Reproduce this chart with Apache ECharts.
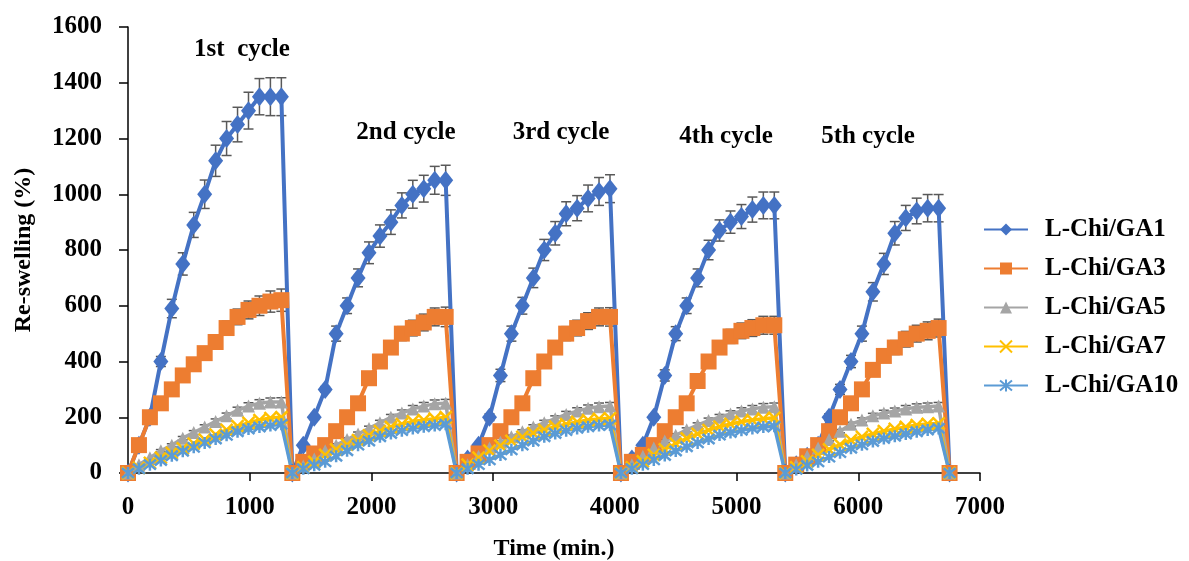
<!DOCTYPE html>
<html>
<head>
<meta charset="utf-8">
<script src="https://cdn.jsdelivr.net/npm/echarts@6/dist/echarts.min.js"></script>
<style>html,body{margin:0;padding:0;background:#fff;}#chart{width:1189px;height:561px;}</style>
</head>
<body>
<div id="chart"></div>
<script>
// time points (min)
var times = [0,90,180,270,360,450,540,630,720,810,900,990,1080,1170,1260,
  1350,1440,1530,1620,1710,1800,1890,1980,2070,2160,2250,2340,2430,2520,2610,
  2700,2790,2880,2970,3060,3150,3240,3330,3420,3510,3600,3690,3780,3870,3960,
  4050,4140,4230,4320,4410,4500,4590,4680,4770,4860,4950,5040,5130,5220,5310,
  5400,5490,5580,5670,5760,5850,5940,6030,6120,6210,6300,6390,6480,6570,6660,
  6750];

var ga1 = [0,100,200,400,590,750,890,1000,1120,1200,1250,1300,1350,1350,1350,
  0,100,200,300,500,600,700,790,850,900,960,1000,1020,1050,1050,
  0,50,100,200,350,500,600,700,800,860,930,950,985,1010,1020,
  0,50,100,200,350,500,600,700,800,870,900,920,945,960,960,
  0,30,60,100,200,300,400,500,650,750,860,915,940,950,950,
  0];
var ga3 = [0,100,200,250,300,350,390,430,470,520,560,585,600,615,620,
  0,40,70,100,150,200,250,340,400,450,500,520,540,560,560,
  0,40,70,100,150,200,250,340,400,450,500,520,545,560,560,
  0,40,65,100,150,200,250,330,400,450,490,510,520,530,530,
  0,30,60,100,150,200,250,300,370,420,450,480,500,510,520,
  0];
var ga5 = [0,30,55,80,100,125,145,165,185,205,225,240,250,255,255,
  0,25,50,80,100,120,140,160,180,200,215,230,240,248,250,
  0,30,60,90,110,130,148,165,180,195,210,222,232,238,240,
  0,30,60,90,115,135,155,172,188,200,212,222,230,236,238,
  0,30,60,90,120,150,175,190,205,215,222,230,236,238,240,
  0];
var ga7 = [0,18,36,55,72,88,105,120,138,155,168,180,190,197,200,
  0,20,40,65,85,102,118,135,150,165,175,185,190,195,200,
  0,30,55,80,98,115,130,143,155,166,175,183,190,194,196,
  0,20,42,65,85,105,124,140,154,166,176,184,190,195,198,
  0,20,42,65,85,102,118,130,140,150,158,165,172,176,178,
  0];
var ga10 = [0,15,30,45,62,78,92,108,122,135,148,158,165,170,175,
  0,15,28,40,60,80,100,115,130,142,152,160,166,170,175,
  0,15,30,47,65,83,100,115,130,142,152,160,166,170,172,
  0,15,30,47,63,79,94,108,122,136,145,153,160,165,168,
  0,13,27,40,57,73,89,101,113,124,132,140,148,154,160,
  0];

// error bars (± values)
var err1 = [0,5,8,18,33,40,45,51,56,61,62,66,65,68,68,
  0,5,8,10,27,28,32,39,40,44,45,50,48,50,54,
  0,3,5,12,22,27,30,35,38,42,43,45,48,50,50,
  0,3,5,10,20,25,28,32,35,38,40,43,45,48,48,
  0,2,4,6,12,18,22,27,33,38,42,45,46,49,49,
  0];
var err3 = [0,5,8,10,12,15,18,20,22,25,28,32,35,38,40,
  0,3,5,6,8,10,12,18,20,22,25,28,30,32,35,
  0,3,5,6,8,10,12,18,20,22,25,28,30,32,33,
  0,3,5,6,8,10,12,18,20,22,25,28,30,32,32,
  0,3,5,6,8,10,12,16,20,22,25,28,30,32,32,
  0];
var err5 = [0,0,0,4,5,6,7,8,9,10,11,12,13,14,15,
  0,0,0,4,5,6,7,8,9,10,11,12,13,14,14,
  0,0,0,4,5,6,7,8,9,10,11,12,12,13,13,
  0,0,0,4,5,6,7,8,9,10,11,12,12,13,13,
  0,0,0,4,5,6,7,8,9,10,11,12,12,13,13,
  0];

var yTicks = [0,200,400,600,800,1000,1200,1400,1600];
var xTicks = [0,1000,2000,3000,4000,5000,6000,7000];
var seriesNames = ['L-Chi/GA1','L-Chi/GA3','L-Chi/GA5','L-Chi/GA7','L-Chi/GA10'];
var cycleLabels = ['1st  cycle','2nd cycle','3rd cycle','4th cycle','5th cycle'];

var FONT = '"Liberation Serif", "Times New Roman", serif';

function pairs(vals){ return times.map(function(t,i){ return [t, vals[i]]; }); }
function errPairs(vals, errs){ return times.map(function(t,i){ return [t, vals[i], errs[i]]; }); }

function errRender(params, api){
  var x = api.value(0), y = api.value(1), e = api.value(2);
  if (!e) return null;
  var top = api.coord([x, y + e]);
  var bot = api.coord([x, y - e]);
  var w = 5;
  var st = {stroke:'#595959', lineWidth:1.5};
  return {type:'group', children:[
    {type:'line', shape:{x1:top[0], y1:top[1], x2:bot[0], y2:bot[1]}, style:st},
    {type:'line', shape:{x1:top[0]-w, y1:top[1], x2:top[0]+w, y2:top[1]}, style:st},
    {type:'line', shape:{x1:bot[0]-w, y1:bot[1], x2:bot[0]+w, y2:bot[1]}, style:st}
  ]};
}

var crossPath = 'path://M0,0L10,10M10,0L0,10';
var starPath = 'path://M0,0L10,10M10,0L0,10M5,-1L5,11';

var colors = ['#4472C4','#ED7D31','#A5A5A5','#FFC000','#5B9BD5'];

function lineSeries(name, vals, color, symbol, size, lw, extra){
  var s = {
    name: name, type:'line', data: pairs(vals), symbol: symbol, symbolSize: size,
    showAllSymbol: true, smooth:false, z: 3,
    lineStyle:{color:color, width:lw},
    itemStyle:{color:color},
    emphasis:{disabled:true}
  };
  if (extra) { for (var k in extra) s[k] = extra[k]; }
  return s;
}

var chart = echarts.init(document.getElementById('chart'), null, {renderer:'canvas'});

var option = {
  animation:false,
  backgroundColor:'#fff',
  grid:{left:128, right:209, top:27, bottom:88, containLabel:false, outerBoundsMode:'none'},
  xAxis:{
    type:'value', min:0, max:7000, interval:1000,
    name:'Time (min.)', nameLocation:'middle', nameGap:64,
    nameTextStyle:{fontFamily:FONT, fontWeight:'bold', fontSize:24, color:'#000'},
    axisLine:{show:true, lineStyle:{color:'#000', width:1.5}},
    axisTick:{show:true, length:8, lineStyle:{color:'#000', width:1.5}},
    axisLabel:{fontFamily:FONT, fontWeight:'bold', fontSize:25, color:'#000', margin:22,
      formatter:function(v){ return xTicks.indexOf(v) >= 0 ? String(v) : ''; }},
    splitLine:{show:false}
  },
  yAxis:{
    type:'value', min:0, max:1600, interval:200,
    name:'Re-swelling (%)', nameLocation:'middle', nameGap:92, nameRotate:90,
    nameTextStyle:{fontFamily:FONT, fontWeight:'bold', fontSize:24, color:'#000'},
    axisLine:{show:true, lineStyle:{color:'#000', width:1.5}},
    axisTick:{show:true, length:9, lineStyle:{color:'#000', width:1.5}},
    axisLabel:{fontFamily:FONT, fontWeight:'bold', fontSize:25, color:'#000', margin:26,
      formatter:function(v){ return yTicks.indexOf(v) >= 0 ? String(v) : ''; }},
    splitLine:{show:false}
  },
  legend:{
    data: seriesNames,
    orient:'vertical', left:978, top:212,
    itemWidth:44, itemHeight:15, itemGap:14,
    textStyle:{fontFamily:FONT, fontWeight:'bold', fontSize:25, color:'#000', padding:[0,0,0,12]}
  },
  graphic: [
    {type:'text', x:242, y:50, style:{text:cycleLabels[0], fontFamily:FONT, fontWeight:'bold', fontSize:25, fill:'#000', align:'center', verticalAlign:'middle'}},
    {type:'text', x:406, y:133, style:{text:cycleLabels[1], fontFamily:FONT, fontWeight:'bold', fontSize:25, fill:'#000', align:'center', verticalAlign:'middle'}},
    {type:'text', x:561, y:133, style:{text:cycleLabels[2], fontFamily:FONT, fontWeight:'bold', fontSize:25, fill:'#000', align:'center', verticalAlign:'middle'}},
    {type:'text', x:726, y:137, style:{text:cycleLabels[3], fontFamily:FONT, fontWeight:'bold', fontSize:25, fill:'#000', align:'center', verticalAlign:'middle'}},
    {type:'text', x:868, y:137, style:{text:cycleLabels[4], fontFamily:FONT, fontWeight:'bold', fontSize:25, fill:'#000', align:'center', verticalAlign:'middle'}}
  ],
  series:[
    {name:'err1', type:'custom', renderItem:errRender, data:errPairs(ga1, err1), z:2, silent:true, encode:{x:0, y:1}},
    {name:'err3', type:'custom', renderItem:errRender, data:errPairs(ga3, err3), z:2, silent:true, encode:{x:0, y:1}},
    {name:'err5', type:'custom', renderItem:errRender, data:errPairs(ga5, err5), z:2, silent:true, encode:{x:0, y:1}},
    lineSeries(seriesNames[0], ga1, colors[0], 'diamond', [15,19], 4),
    lineSeries(seriesNames[1], ga3, colors[1], 'rect', 16, 4),
    lineSeries(seriesNames[2], ga5, colors[2], 'triangle', 13, 3.5),
    lineSeries(seriesNames[3], ga7, colors[3], crossPath, 12, 3.5,
      {itemStyle:{color:colors[3], borderColor:colors[3], borderWidth:2.5}}),
    lineSeries(seriesNames[4], ga10, colors[4], starPath, 12, 3.5,
      {itemStyle:{color:colors[4], borderColor:colors[4], borderWidth:2.5}})
  ]
};
chart.setOption(option);
</script>
</body>
</html>
